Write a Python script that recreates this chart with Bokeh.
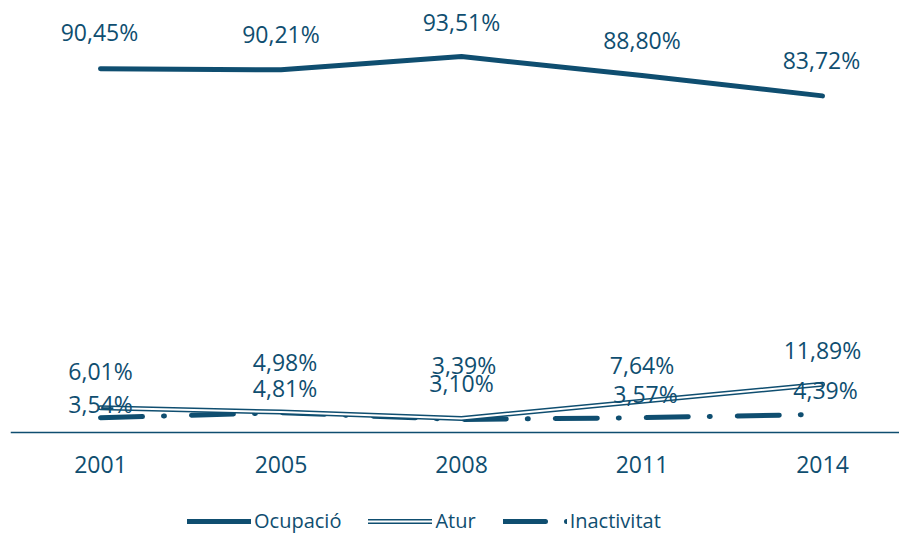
from bokeh.plotting import figure
from bokeh.models import ColumnDataSource, Range1d, FixedTicker, Legend, LegendItem
from bokeh.core.properties import value
from bokeh.embed import file_html
from bokeh.resources import INLINE

# ---- data ----
years = ["2001", "2005", "2008", "2011", "2014"]
ocupacio = [90.45, 90.21, 93.51, 88.80, 83.72]
atur = [6.01, 4.98, 3.39, 7.64, 11.89]
inactivitat = [3.54, 4.81, 3.10, 3.57, 4.39]

# ---- label nudges in screen pixels (style only) ----
ocup_dx = [-1, 0, 0, 0, -1]
ocup_dy = [-36.5, -35.5, -35, -35.5, -36]
atur_dx = [0, 4, 2.5, 0, 0]
atur_dy = [-36.5, -50, -53, -36, -34.5]
inac_dx = [0, 4, 0, 3.5, 3]
inac_dy = [-14, -25, -37, -24, -24.5]

C = "#0F4E70"
FONT = "Open Sans"

xs = list(range(len(years)))


def fmt(v):
    return f"{v:.2f}".replace(".", ",") + "%"


PX_PER_X = 180.5
PX_PER_Y = 4.015
FW, FH = 889, 527
ZERO_FROM_TOP = 423.5  # frame pixels above the zero line
p = figure(frame_width=FW, frame_height=FH, output_backend="svg", toolbar_location=None,
           x_range=Range1d(-0.4986, -0.4986 + FW / PX_PER_X),
           y_range=Range1d(-(FH - ZERO_FROM_TOP) / PX_PER_Y, ZERO_FROM_TOP / PX_PER_Y),
           y_axis_location=None,
           min_border_left=10, min_border_right=0, min_border_top=8,
           min_border_bottom=0)
p.outline_line_color = None
p.xgrid.visible = False
p.ygrid.visible = False

ax = p.xaxis[0]
ax.fixed_location = 0
ax.ticker = FixedTicker(ticks=xs)
ax.major_label_overrides = {i: y for i, y in zip(xs, years)}
ax.axis_line_color = C
ax.axis_line_width = 1.6
ax.major_tick_line_color = None
ax.minor_tick_line_color = None
ax.major_label_text_font = FONT
ax.major_label_text_font_size = "23px"
ax.major_label_text_color = C
ax.major_label_standoff = 18

r_in = p.line(xs, inactivitat, line_color=C, line_width=5, line_dash="42 21 1 27",
              line_cap="round")
r_at_o = p.line(xs, atur, line_color=C, line_width=5, line_cap="round", line_join="round")
r_at_i = p.line(xs, atur, line_color="white", line_width=2, line_cap="round", line_join="round")
r_oc = p.line(xs, ocupacio, line_color=C, line_width=5, line_cap="round", line_join="round")

for vals, dx, dy in ((ocupacio, ocup_dx, ocup_dy), (atur, atur_dx, atur_dy),
                     (inactivitat, inac_dx, inac_dy)):
    src = ColumnDataSource(dict(x=xs, y=vals, t=[fmt(v) for v in vals], dx=dx, dy=dy))
    p.text(x="x", y="y", text="t", x_offset="dx", y_offset="dy", source=src,
           text_align="center", text_baseline="alphabetic",
           text_font=value(FONT), text_font_size="23px", text_color=C)

legend = Legend(items=[LegendItem(label="Ocupació", renderers=[r_oc]),
                       LegendItem(label="Atur", renderers=[r_at_o, r_at_i]),
                       LegendItem(label="Inactivitat", renderers=[r_in])],
                orientation="horizontal", location=(177, 1))
legend.border_line_color = None
legend.background_fill_alpha = 0
legend.glyph_width = 64
legend.glyph_height = 20
legend.label_standoff = 3
legend.spacing = 27
legend.padding = 0
legend.margin = 0
legend.label_text_font = FONT
legend.label_text_font_size = "20px"
legend.label_text_color = C
p.add_layout(legend, "center")

open("out.html", "w").write(file_html(p, INLINE))
